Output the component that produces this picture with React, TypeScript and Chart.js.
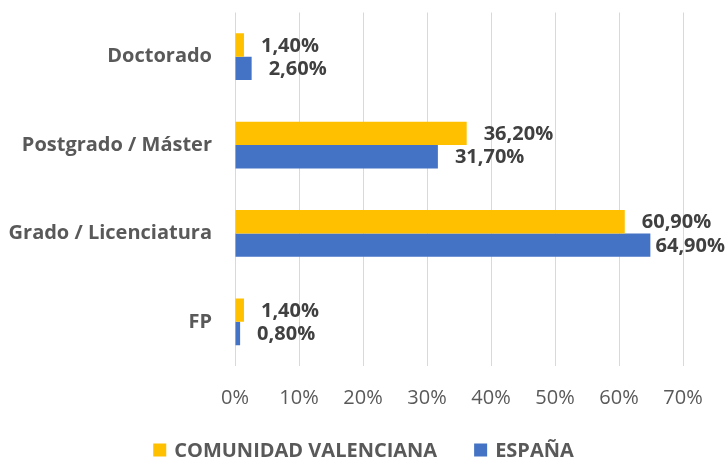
import React, { useEffect, useRef } from "react";
import { Chart, registerables } from "chart.js";

Chart.register(...registerables);

const categories = ["Doctorado", "Postgrado / Máster", "Grado / Licenciatura", "FP"];
const seriesNames = ["COMUNIDAD VALENCIANA", "ESPAÑA"];
const valenciaValues = [1.4, 36.2, 60.9, 1.4];
const espanaValues = [2.6, 31.7, 64.9, 0.8];
const seriesColors = ["#FFC000", "#4472C4"];
const xTickMax = 70;
const xTickStep = 10;

const FONT = "'Open Sans', 'DejaVu Sans', sans-serif";

const fmt = (v: number) => v.toFixed(2).replace(".", ",") + "%";

const dataLabelPlugin = {
  id: "dataLabels",
  afterDatasetsDraw(chart: any) {
    const { ctx, width } = chart;
    ctx.save();
    ctx.font = `bold 20px ${FONT}`;
    ctx.fillStyle = "#404040";
    ctx.textBaseline = "middle";
    ctx.textAlign = "left";
    chart.data.datasets.forEach((ds: any, di: number) => {
      const meta = chart.getDatasetMeta(di);
      meta.data.forEach((bar: any, i: number) => {
        const text = fmt(ds.data[i]);
        const tw = ctx.measureText(text).width;
        let x = bar.x + 17;
        if (x + tw > width - 2) x = width - 2 - tw;
        ctx.fillText(text, x, bar.y + 1);
      });
    });
    ctx.restore();
  },
};

const legendPlugin = {
  id: "customLegend",
  afterDraw(chart: any) {
    const { ctx, width } = chart;
    ctx.save();
    ctx.font = `bold 20px ${FONT}`;
    ctx.textBaseline = "middle";
    ctx.textAlign = "left";
    const box = 13;
    const gap = 8;
    const itemGap = 37;
    const items = chart.data.datasets.map((ds: any) => ({
      text: ds.label,
      color: ds.backgroundColor,
      w: box + gap + ctx.measureText(ds.label).width,
    }));
    const total = items.reduce((s: number, it: any) => s + it.w, 0) + itemGap * (items.length - 1);
    let x = width / 2 - total / 2;
    const y = 450;
    items.forEach((it: any) => {
      ctx.fillStyle = it.color;
      ctx.fillRect(x, y - box / 2, box, box);
      ctx.fillStyle = "#595959";
      ctx.fillText(it.text, x + box + gap, y + 1);
      x += it.w + itemGap;
    });
    ctx.restore();
  },
};

export default function App() {
  const ref = useRef<HTMLCanvasElement>(null);
  useEffect(() => {
    if (!ref.current) return;
    const chart = new Chart(ref.current, {
      type: "bar",
      data: {
        labels: categories,
        datasets: [
          {
            label: seriesNames[0],
            data: valenciaValues,
            backgroundColor: seriesColors[0],
            categoryPercentage: 0.53,
            barPercentage: 1,
          },
          {
            label: seriesNames[1],
            data: espanaValues,
            backgroundColor: seriesColors[1],
            categoryPercentage: 0.53,
            barPercentage: 1,
          },
        ],
      },
      options: {
        indexAxis: "y",
        responsive: false,
        animation: false,
        devicePixelRatio: 1,
        layout: { padding: { top: 12.5, right: 44, bottom: 0, left: 0 } },
        plugins: {
          legend: { display: false },
          tooltip: { enabled: false },
        },
        scales: {
          x: {
            min: 0,
            max: xTickMax,
            ticks: {
              stepSize: xTickStep,
              callback: (v: any) => v + "%",
              color: "#595959",
              font: { family: FONT, size: 20 },
              padding: 20,
            },
            grid: { color: "#d9d9d9", lineWidth: 1, drawTicks: false },
            border: { display: false },
            afterFit: (scale: any) => {
              scale.height = 93;
              scale.paddingLeft = 0;
              scale.paddingRight = 0;
            },
          },
          y: {
            ticks: {
              color: "#595959",
              font: { family: FONT, size: 20, weight: "bold" },
              padding: 23,
            },
            grid: { display: false, drawTicks: false },
            border: { display: false },
            afterFit: (scale: any) => {
              scale.width = 235;
              scale.paddingTop = 0;
              scale.paddingBottom = 0;
            },
          },
        },
      },
      plugins: [dataLabelPlugin, legendPlugin],
    } as any);
    return () => chart.destroy();
  }, []);
  return (
    <div style={{ position: "absolute", left: 0, top: 0, width: 727, height: 459, background: "#fff" }}>
      <canvas ref={ref} width={727} height={459} />
    </div>
  );
}
